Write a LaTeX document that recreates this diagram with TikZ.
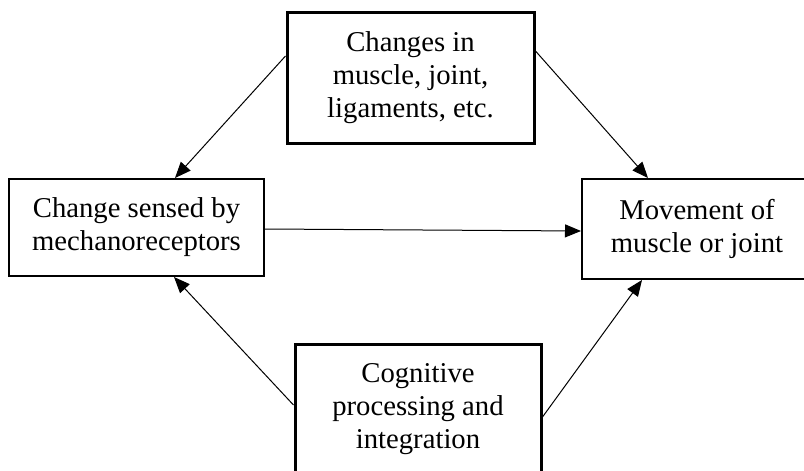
\documentclass[tikz,border=0pt]{standalone}
\usepackage{fontspec}
\setmainfont{Liberation Serif}
\usetikzlibrary{arrows.meta}
\begin{document}
\begin{tikzpicture}[x=1pt,y=-1pt,
  box/.style={draw,line width=2pt,align=center,inner sep=0pt,font=\fontsize{28.7}{33}\selectfont},
  thickbox/.style={box,line width=3pt},
  arr/.style={line width=1pt,-{Triangle[length=16pt,width=13pt]}}]
\useasboundingbox (0,0) rectangle (804,471);
\node[thickbox,minimum width=247pt,minimum height=131pt] (top) at (410.5,77.5) {Changes in\\muscle, joint,\\ligaments, etc.};
\node[box,minimum width=255pt,minimum height=97pt] (left) at (136.5,227.5) {Change sensed by\\mechanoreceptors};
\node[box,minimum width=230pt,minimum height=100pt] (right) at (697,229) {Movement of\\muscle or joint};
\node[thickbox,minimum width=246pt,minimum height=130pt] (bot) at (418,409) {Cognitive\\processing and\\integration};
\draw[arr] ([yshift=21.5pt]top.west) -- ([xshift=38.5pt]left.north);
\draw[arr] ([yshift=26.5pt]top.east) -- ([xshift=-49pt]right.north);
\draw[arr] ([yshift=-1.5pt]left.east) -- ([yshift=-2pt]right.west);
\draw[arr] ([yshift=4pt]bot.west) -- ([xshift=37.5pt]left.south);
\draw[arr] ([yshift=-8pt]bot.east) -- ([xshift=-55pt]right.south);
\end{tikzpicture}
\end{document}
